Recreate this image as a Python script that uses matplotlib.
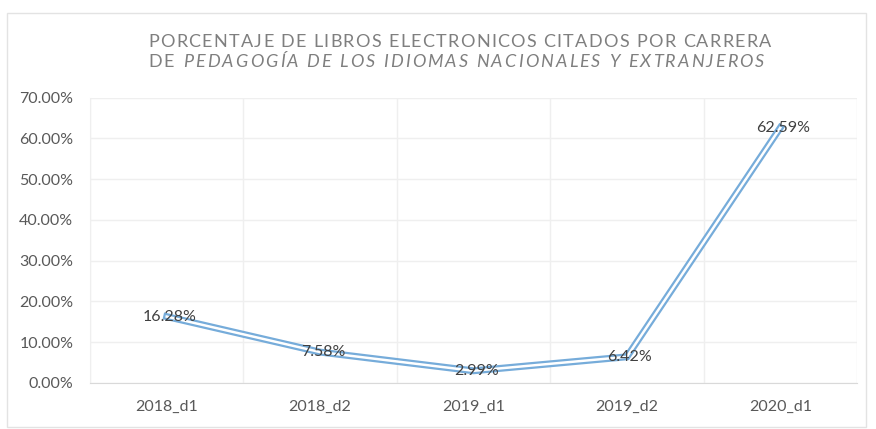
import matplotlib
matplotlib.use("Agg")
import matplotlib.pyplot as plt
from matplotlib.patches import Rectangle
from matplotlib.ticker import FuncFormatter, MultipleLocator

categories = ["2018_d1", "2018_d2", "2019_d1", "2019_d2", "2020_d1"]
values = [16.28, 7.58, 2.99, 6.42, 62.59]
value_labels = ["16.28%", "7.58%", "2.99%", "6.42%", "62.59%"]
title_line1 = "PORCENTAJE DE LIBROS ELECTRONICOS CITADOS POR CARRERA"
title_line2_a = "DE "
title_line2_b = "PEDAGOGÍA DE LOS IDIOMAS NACIONALES Y EXTRANJEROS"

W, H = 876, 429
fig = plt.figure(figsize=(W / 100, H / 100), dpi=100)
fig.patch.set_facecolor("white")
FONT = "Lato"

# outer chart border
fig.add_artist(Rectangle((7 / W, 1 - 427 / H), (866 - 7) / W, (427 - 13) / H,
                         transform=fig.transFigure, fill=False,
                         edgecolor="#E3E3E3", lw=1.0))

ax = fig.add_axes([90 / W, 1 - 383 / H, (857 - 90) / W, (383 - 97.5) / H])
ax.set_facecolor("white")
x = list(range(len(categories)))
ax.set_xlim(-0.5, len(categories) - 0.5)
ax.set_ylim(0, 70)
ax.yaxis.set_major_locator(MultipleLocator(10))
ax.yaxis.set_major_formatter(FuncFormatter(lambda v, p: f"{v:.2f}%"))
ax.set_xticks(x)
ax.set_xticklabels(categories)
ax.set_xticks([i + 0.5 for i in range(-1, len(categories))], minor=True)
ax.grid(axis="y", which="major", color="#EFEFEF", lw=1.0)
ax.grid(axis="x", which="minor", color="#EFEFEF", lw=1.0)
ax.tick_params(axis="both", which="both", length=0,
               labelsize=11.5, labelcolor="#595959")
ax.tick_params(axis="y", pad=12)
ax.tick_params(axis="x", pad=12)
for lab in ax.get_xticklabels() + ax.get_yticklabels():
    lab.set_fontfamily(FONT)
for s in ["top", "right"]:
    ax.spines[s].set_visible(False)
ax.spines["left"].set_color("#EFEFEF")
ax.spines["bottom"].set_color("#D9D9D9")
ax.set_axisbelow(True)

# double (compound) line
ax.plot(x, values, color="#76ACDA", lw=5.0, solid_joinstyle="miter", zorder=3)
ax.plot(x, values, color="white", lw=1.8, solid_joinstyle="miter", zorder=4)

for xi, v, t in zip(x, values, value_labels):
    ax.text(xi + 0.02, v, t, ha="center", va="center", fontsize=11.5,
            color="#404040", family=FONT, zorder=5)

# letter-spaced title
renderer = fig.canvas.get_renderer()
title_kw = dict(fontsize=13, color="#7F7F7F", family=FONT)


def char_width(c, style):
    if c == " ":
        t = fig.text(0, 0, "a a", fontstyle=style, **title_kw)
        t2 = fig.text(0, 0, "aa", fontstyle=style, **title_kw)
        w = t.get_window_extent(renderer).width - t2.get_window_extent(renderer).width
        t.remove()
        t2.remove()
        return w
    t = fig.text(0, 0, c, fontstyle=style, **title_kw)
    w = t.get_window_extent(renderer).width
    t.remove()
    return w


def spaced_line(parts, x0, x1, ypix):
    seq = []
    for txt, style in parts:
        for c in txt:
            seq.append((c, style))
    widths = [char_width(c, s) for c, s in seq]
    total = sum(widths)
    gap = (x1 - x0 - total) / (len(seq) - 1)
    cx = x0
    for (c, style), w in zip(seq, widths):
        if c != " ":
            fig.text(cx / W, 1 - ypix / H, c, fontstyle=style, ha="left",
                     va="center", **title_kw)
        cx += w + gap


spaced_line([(title_line1, "normal")], 148, 771, 42)
spaced_line([(title_line2_a, "normal"), (title_line2_b, "italic")], 148, 764, 62)

fig.savefig("out.png", dpi=100, facecolor="white")
